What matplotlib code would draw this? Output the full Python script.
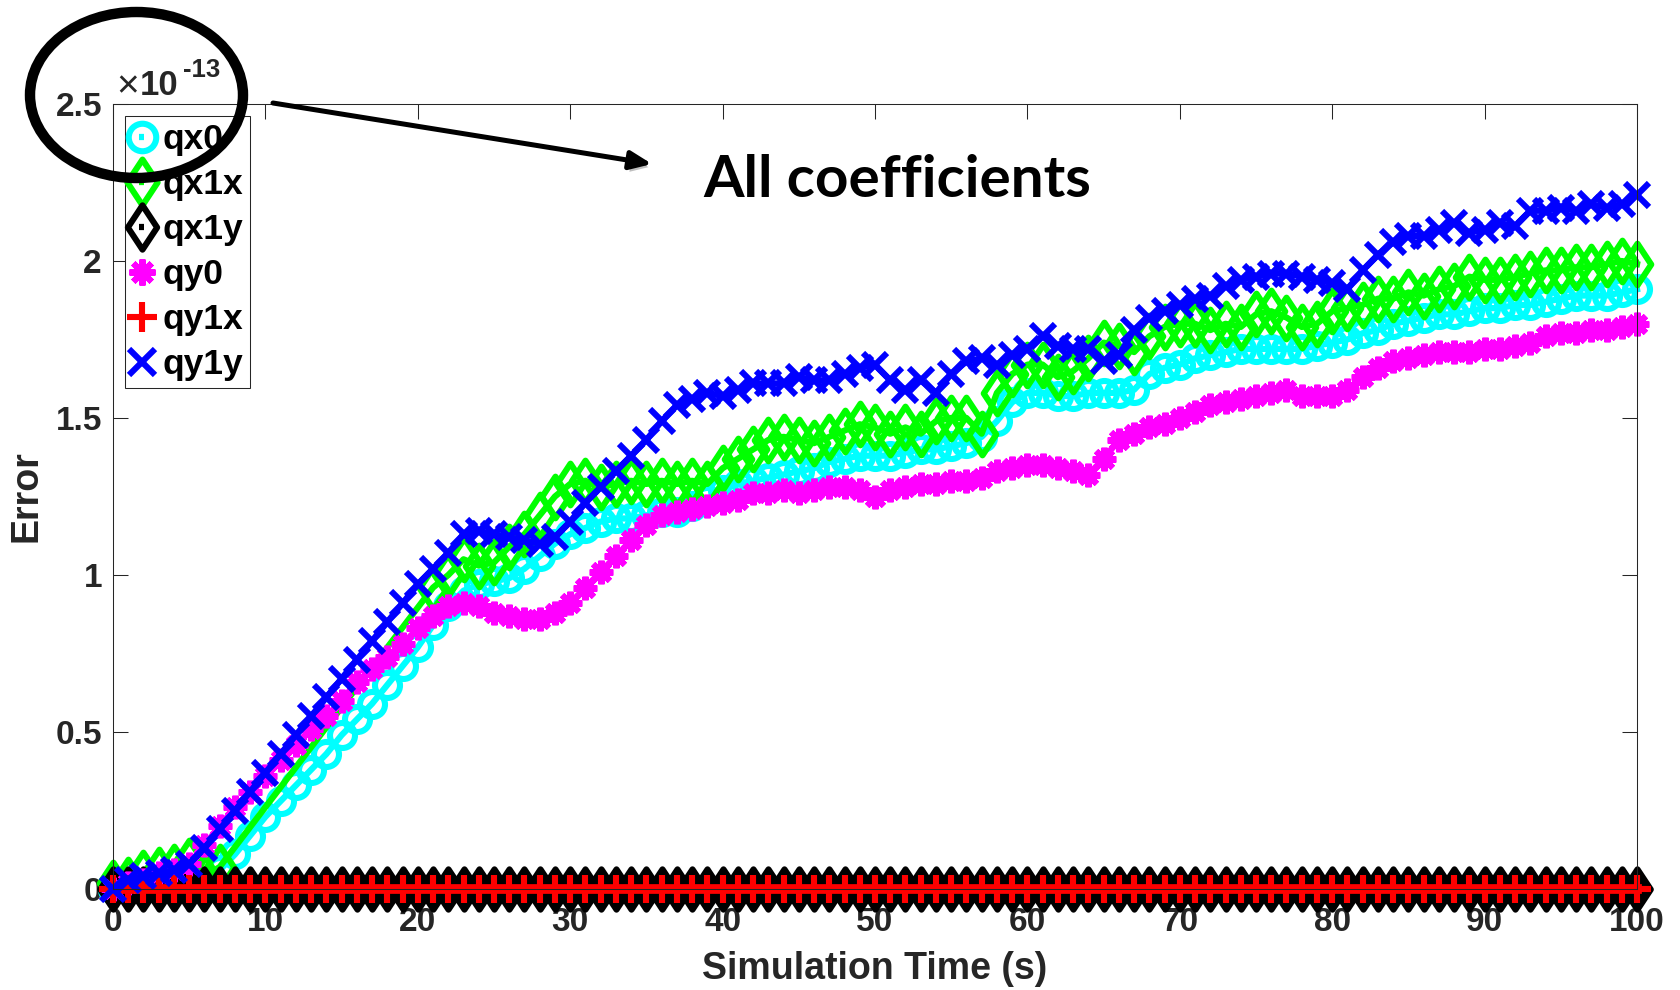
import matplotlib.pyplot as plt
import matplotlib.patheffects as pe
from matplotlib.patches import Ellipse, FancyArrowPatch
from matplotlib.path import Path
from matplotlib.ticker import FormatStrFormatter

plt.rcParams['font.family'] = ['Liberation Sans', 'DejaVu Sans']

W, H = 1681, 990

# simulation time (s); qx1x only has samples outside the 8..20 s gap
t = list(range(0, 101))
t_qx1x = list(range(0, 8)) + list(range(21, 101))

# error values in units of 1e-13
qx0 = [0.00, 0.00, 0.00, 0.01, 0.01, 0.01, 0.02, 0.06, 0.11, 0.17,
       0.23, 0.28, 0.33, 0.38, 0.43, 0.49, 0.54, 0.59, 0.65, 0.71,
       0.77, 0.84, 0.90, 0.95, 0.97, 0.98, 0.99, 1.02, 1.06, 1.10,
       1.13, 1.15, 1.17, 1.18, 1.18, 1.19, 1.20, 1.20, 1.22, 1.24,
       1.27, 1.29, 1.30, 1.31, 1.32, 1.33, 1.34, 1.36, 1.37, 1.38,
       1.38, 1.38, 1.39, 1.40, 1.40, 1.41, 1.42, 1.44, 1.49, 1.55,
       1.58, 1.58, 1.57, 1.57, 1.58, 1.58, 1.58, 1.59, 1.64, 1.66,
       1.67, 1.69, 1.70, 1.71, 1.72, 1.72, 1.72, 1.72, 1.72, 1.73,
       1.74, 1.75, 1.77, 1.78, 1.80, 1.81, 1.82, 1.83, 1.83, 1.84,
       1.85, 1.85, 1.86, 1.86, 1.87, 1.88, 1.89, 1.89, 1.89, 1.90,
       1.91]

qx1x = [0.02, 0.03, 0.05, 0.06, 0.07, 0.09, 0.04, 0.07,
        0.96, 1.00, 1.05, 1.03, 1.04, 1.09, 1.13, 1.19, 1.25,
        1.29, 1.30, 1.28, 1.29, 1.30, 1.29, 1.30, 1.29, 1.30, 1.29,
        1.34, 1.37, 1.40, 1.43, 1.44, 1.43, 1.42, 1.44, 1.46, 1.48,
        1.47, 1.45, 1.47, 1.45, 1.49, 1.50, 1.50, 1.45, 1.58, 1.64,
        1.67, 1.67, 1.63, 1.65, 1.69, 1.74, 1.73, 1.71, 1.76, 1.79,
        1.80, 1.80, 1.78, 1.80, 1.79, 1.83, 1.84, 1.82, 1.79, 1.80,
        1.84, 1.85, 1.86, 1.88, 1.88, 1.90, 1.89, 1.91, 1.92, 1.95,
        1.94, 1.94, 1.95, 1.96, 1.97, 1.97, 1.98, 1.98, 1.99, 2.00,
        1.99]

qx1y = [0.0] * 101

qy0 = [0.00, 0.02, 0.03, 0.05, 0.06, 0.08, 0.14, 0.20, 0.26, 0.31,
       0.36, 0.41, 0.46, 0.51, 0.55, 0.60, 0.66, 0.70, 0.74, 0.78,
       0.83, 0.87, 0.90, 0.91, 0.90, 0.88, 0.87, 0.86, 0.86, 0.88,
       0.91, 0.96, 1.01, 1.06, 1.11, 1.16, 1.19, 1.20, 1.21, 1.22,
       1.23, 1.24, 1.26, 1.26, 1.27, 1.26, 1.27, 1.28, 1.28, 1.27,
       1.25, 1.27, 1.28, 1.29, 1.29, 1.30, 1.30, 1.31, 1.33, 1.34,
       1.35, 1.35, 1.34, 1.33, 1.32, 1.37, 1.43, 1.45, 1.47, 1.48,
       1.50, 1.52, 1.54, 1.55, 1.56, 1.57, 1.58, 1.59, 1.57, 1.57,
       1.57, 1.59, 1.63, 1.66, 1.68, 1.69, 1.70, 1.71, 1.71, 1.71,
       1.72, 1.72, 1.73, 1.74, 1.76, 1.77, 1.77, 1.78, 1.78, 1.79,
       1.80]

qy1x = [0.0] * 101

qy1y = [0.00, 0.03, 0.04, 0.05, 0.06, 0.08, 0.13, 0.19, 0.25, 0.31,
        0.37, 0.43, 0.49, 0.55, 0.61, 0.67, 0.73, 0.79, 0.85, 0.91,
        0.97, 1.02, 1.07, 1.13, 1.14, 1.13, 1.12, 1.11, 1.10, 1.12,
        1.17, 1.23, 1.28, 1.33, 1.38, 1.43, 1.49, 1.54, 1.56, 1.58,
        1.57, 1.59, 1.61, 1.61, 1.61, 1.63, 1.62, 1.62, 1.64, 1.66,
        1.67, 1.62, 1.59, 1.62, 1.58, 1.64, 1.68, 1.69, 1.67, 1.70,
        1.72, 1.76, 1.73, 1.72, 1.72, 1.68, 1.70, 1.78, 1.82, 1.84,
        1.86, 1.88, 1.89, 1.92, 1.94, 1.95, 1.96, 1.96, 1.95, 1.94,
        1.93, 1.91, 1.97, 2.02, 2.06, 2.08, 2.08, 2.10, 2.12, 2.09,
        2.10, 2.12, 2.11, 2.16, 2.16, 2.17, 2.16, 2.18, 2.17, 2.18,
        2.21]

x_ticks = [0, 10, 20, 30, 40, 50, 60, 70, 80, 90, 100]
y_ticks = [0, 0.5, 1, 1.5, 2, 2.5]

# tall diamond like the MATLAB 'd' marker
diamond = Path([(0, 1), (0.66, 0), (0, -1), (-0.66, 0), (0, 1)],
               [Path.MOVETO, Path.LINETO, Path.LINETO, Path.LINETO, Path.CLOSEPOLY])

ink = '#262626'


def fig_xy(x, y):
    # pixel position (from top-left) -> figure fraction
    return x / W, 1 - y / H


fig = plt.figure(figsize=(W / 100, H / 100), dpi=100)
ax = fig.add_axes([113 / W, 101 / H, 1524 / W, 785 / H])

common = dict(markeredgewidth=4.4, markerfacecolor='none', clip_on=False)
ax.plot(t, qx0, color=(0, 1, 1), lw=4.5, marker='o', markersize=18, label='qx0', **common)
ax.plot(t_qx1x, qx1x, color=(0, 1, 0), lw=4.5, marker=diamond, markersize=30,
        label='qx1x', **common)
# the zero-error diamonds overlap into a solid band
ax.plot(t, qx1y, color='k', lw=4.5, marker=diamond, markersize=29, label='qx1y',
        markeredgewidth=4.4, markerfacecolor='k', clip_on=False)
ax.plot(t, qy0, color=(1, 0, 1), lw=4.5, marker=(8, 2, 0), markersize=17, label='qy0', **common)
ax.plot(t, qy1x, color=(1, 0, 0), lw=7, marker='+', markersize=20, label='qy1x', **common)
ax.plot(t, qy1y, color=(0, 0, 1), lw=4.5, marker='x', markersize=17, label='qy1y', **common)

ax.set_xlim(0, 100)
ax.set_ylim(0, 2.5)
ax.set_xticks(x_ticks)
ax.set_yticks(y_ticks)
ax.yaxis.set_major_formatter(FormatStrFormatter('%g'))
ax.tick_params(direction='in', length=11, width=0.75, top=True, right=True,
               colors=ink, labelsize=24)
ax.tick_params(axis='x', pad=13)
ax.tick_params(axis='y', pad=8)
for lab in ax.get_xticklabels() + ax.get_yticklabels():
    lab.set_fontweight('bold')
for sp in ax.spines.values():
    sp.set_color(ink)
    sp.set_linewidth(0.75)

ax.set_xlabel('Simulation Time (s)', fontsize=27, fontweight='bold', color=ink, labelpad=9)
ax.set_ylabel('Error', fontsize=27, fontweight='bold', color=ink, labelpad=8)

leg = ax.legend(loc='upper left', bbox_to_anchor=(12 / 1524, 1 - 12 / 785),
                borderaxespad=0, fancybox=False, edgecolor=ink, framealpha=1,
                handlelength=0.55, handletextpad=0.3, borderpad=0.2,
                labelspacing=0.34, markerscale=1.1,
                prop={'weight': 'bold', 'size': 25.5})
leg.get_frame().set_linewidth(0.75)
# legend samples: marker with only a short stub of the line in its centre
for h in leg.legend_handles:
    xs = h.get_xdata()
    c = xs[1]
    h.set_xdata([c - 1.8, c, c + 1.8])
    h.set_linewidth(4.5)
    h.set_solid_capstyle('butt')
leg.legend_handles[2].set_markerfacecolor('none')

# exponent of the y axis
fig.text(*fig_xy(127.5, 87), '\u00d7', fontsize=28, color=ink, ha='center', va='center')
fig.text(*fig_xy(140, 95), '10', fontsize=25, fontweight='bold', color=ink,
         ha='left', va='baseline')
fig.text(*fig_xy(183, 77), '-13', fontsize=18.5, fontweight='bold', color=ink,
         ha='left', va='baseline')

# callout: ring around the scale factor and arrow to the note
fig.add_artist(Ellipse(fig_xy(136.5, 95), 213 / W, 166 / H, transform=fig.transFigure,
                       fill=False, linewidth=7.5, edgecolor='black', zorder=10))
arrow = FancyArrowPatch(fig_xy(273, 103), fig_xy(652, 164), transform=fig.transFigure,
                        arrowstyle='-|>,head_length=1.3,head_width=0.55', mutation_scale=10,
                        linewidth=3.6, color='black', shrinkA=0, shrinkB=0, zorder=10,
                        path_effects=[pe.SimplePatchShadow(offset=(2, -3), shadow_rgbFace='0.45',
                                                           alpha=0.45),
                                      pe.Normal()])
fig.add_artist(arrow)
fig.text(*fig_xy(703, 196.7), 'All coefficients', fontfamily='Lato', fontweight='bold',
         fontsize=42, color='black', ha='left', va='baseline')

fig.savefig('out.png', dpi=100)
